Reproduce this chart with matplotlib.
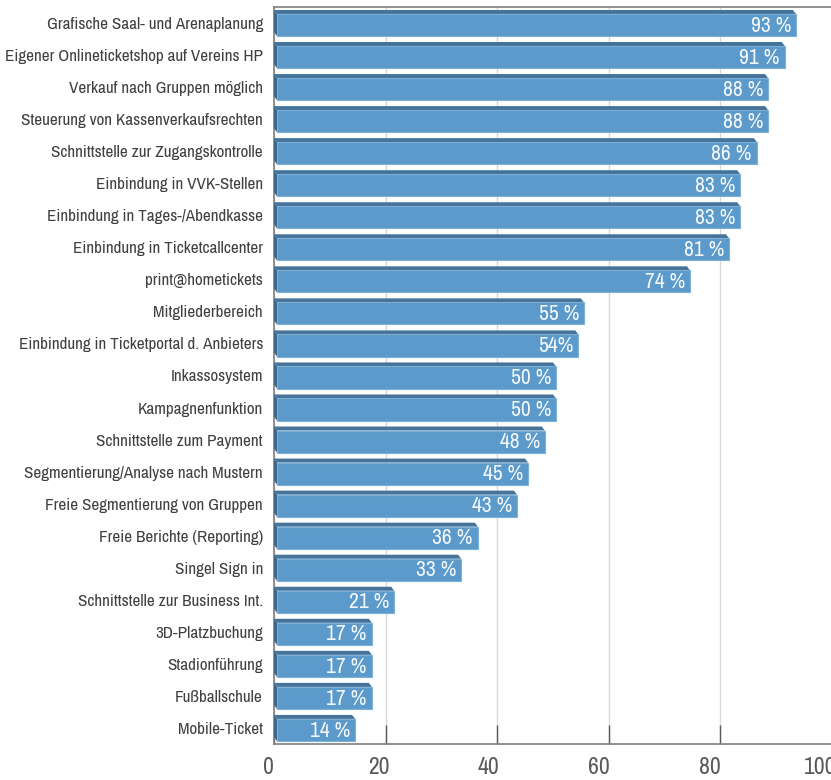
import matplotlib
matplotlib.use("Agg")
import matplotlib.pyplot as plt
from matplotlib.patches import Polygon, Rectangle
from matplotlib.transforms import ScaledTranslation

plt.rcParams['font.family'] = ['Archivo Narrow', 'DejaVu Sans']

categories = [
    "Grafische Saal- und Arenaplanung",
    "Eigener Onlineticketshop auf Vereins HP",
    "Verkauf nach Gruppen möglich",
    "Steuerung von Kassenverkaufsrechten",
    "Schnittstelle zur Zugangskontrolle",
    "Einbindung in VVK-Stellen",
    "Einbindung in Tages-/Abendkasse",
    "Einbindung in Ticketcallcenter",
    "print@hometickets",
    "Mitgliederbereich",
    "Einbindung in Ticketportal d. Anbieters",
    "Inkassosystem",
    "Kampagnenfunktion",
    "Schnittstelle zum Payment",
    "Segmentierung/Analyse nach Mustern",
    "Freie Segmentierung von Gruppen",
    "Freie Berichte (Reporting)",
    "Singel Sign in",
    "Schnittstelle zur Business Int.",
    "3D-Platzbuchung",
    "Stadionführung",
    "Fußballschule",
    "Mobile-Ticket",
]
values = [93, 91, 88, 88, 86, 83, 83, 81, 74, 55, 54, 50, 50, 48, 45, 43, 36, 33, 21, 17, 17, 17, 14]
# label separator between number and percent sign
seps = [" "] * len(values)
seps[10] = ""
xticks = [0, 20, 40, 60, 80, 100]

W, H, DPI = 831, 780, 100
fig = plt.figure(figsize=(W / DPI, H / DPI), dpi=DPI)
left, right, top, bottom = 274, 832, 7, 744
ax = fig.add_axes([left / W, (H - bottom) / H, (right - left) / W, (bottom - top) / H])

n = len(values)
ax.set_xlim(0, 100)
ax.set_ylim(n - 0.5, -0.5)

# pixel -> data conversion for the 3D depth
px_x = 100 / (right - left)
px_y = n / (bottom - top)
dx, dy = 3 * px_x, 4 * px_y
h = 0.69

front_c = "#5b9aca"
top_c = "#45739a"
side_c = "#3b6789"

for i, v in enumerate(values):
    y0 = i - h / 2 - dy / 2
    # top face
    ax.add_patch(Polygon([(0, y0), (v, y0), (v + dx, y0 + dy), (dx, y0 + dy)],
                         closed=True, fc=top_c, ec="none", zorder=3))
    # left side face
    ax.add_patch(Polygon([(0, y0), (dx, y0 + dy), (dx, y0 + dy + h), (0, y0 + h)],
                         closed=True, fc=side_c, ec="none", zorder=3))
    # front face
    ax.add_patch(Rectangle((dx, y0 + dy), v, h, fc=front_c, ec="#7db0d8",
                           lw=0.8, zorder=4))
    ax.text(v + dx - 0.9, i + dy / 2 + 0.02, f"{v}{seps[i]}%", ha="right", va="center",
            color="#f4f8fb", fontsize=15.5, zorder=5)

ax.set_yticks(range(n))
ax.set_yticklabels(categories, fontsize=12.3, color="#404040")
ax.tick_params(axis="y", length=0, pad=8)

ax.set_xticks(xticks)
ax.set_xticklabels([str(t) for t in xticks], fontsize=17, color="#595959")
ax.tick_params(axis="x", direction="in", length=14, width=1, color="#595959", pad=9)
for t, lab in zip(xticks, ax.get_xticklabels()):
    shift = (-6 - t * 0.06) / DPI
    lab.set_transform(lab.get_transform() + ScaledTranslation(shift, 0, fig.dpi_scale_trans))

ax.grid(axis="x", color="#d9d9d9", lw=1, zorder=0)
ax.set_axisbelow(True)
for s in ["top", "left", "bottom"]:
    ax.spines[s].set_color("#7f7f7f")
    ax.spines[s].set_linewidth(1.2)
ax.spines["right"].set_visible(False)

fig.savefig("out.png", dpi=DPI)
